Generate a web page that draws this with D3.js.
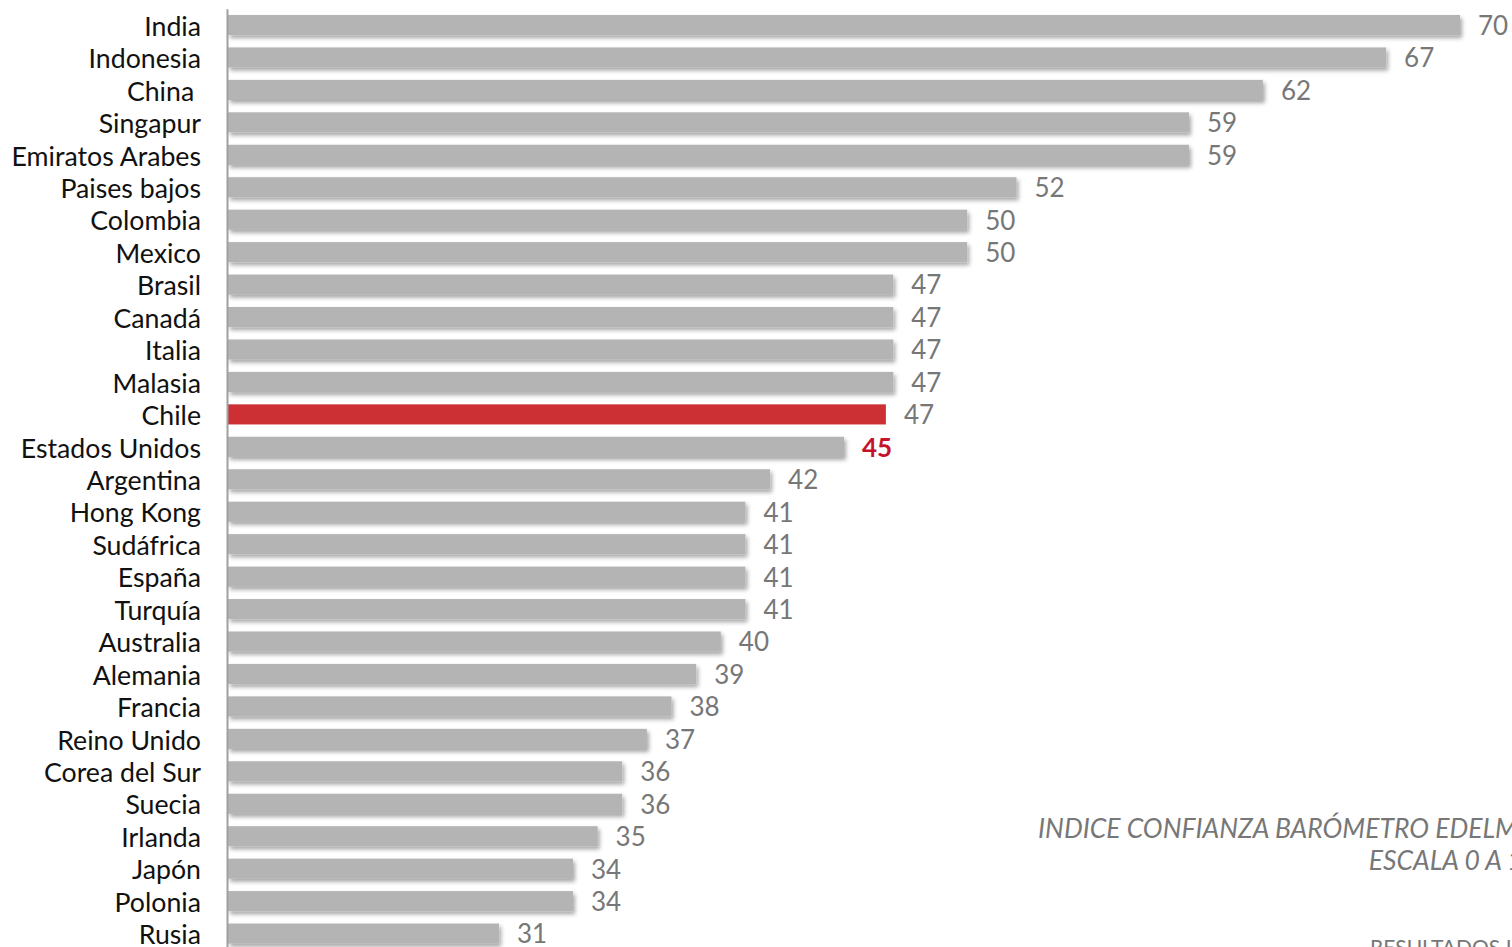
<!DOCTYPE html>
<html>
<head>
<meta charset="utf-8">
<script src="https://cdn.jsdelivr.net/npm/d3@7"></script>
<style>
  body { margin: 0; background: #fff; overflow: hidden; }
  svg { display: block; font-family: Lato, "Open Sans", sans-serif; }
  text { white-space: pre; }
</style>
</head>
<body>
<script>
// datos
var countries = ["India", "Indonesia", "China ", "Singapur", "Emiratos Arabes", "Paises bajos",
  "Colombia", "Mexico", "Brasil", "Canadá", "Italia", "Malasia", "Chile", "Estados Unidos",
  "Argentina", "Hong Kong", "Sudáfrica", "España", "Turquía", "Australia", "Alemania",
  "Francia", "Reino Unido", "Corea del Sur", "Suecia", "Irlanda", "Japón", "Polonia", "Rusia"];
var barValues = [70, 67, 62, 59, 59, 52, 50, 50, 47, 47, 47, 47, 46.7, 45, 42, 41, 41, 41, 41,
  40, 39, 38, 37, 36, 36, 35, 34, 34, 31];
var valueLabels = ["70", "67", "62", "59", "59", "52", "50", "50", "47", "47", "47", "47", "47", "45",
  "42", "41", "41", "41", "41", "40", "39", "38", "37", "36", "36", "35", "34", "34", "31"];
var highlightBar = "Chile";
var highlightLabel = "Estados Unidos";
var xDomain = [20, 70];

var W = 1512, H = 947;
var svg = d3.select("body").append("svg").attr("width", W).attr("height", H);

var defs = svg.append("defs");
var f = defs.append("filter").attr("id", "shadow")
  .attr("x", "-5%").attr("y", "-50%").attr("width", "110%").attr("height", "220%");
f.append("feDropShadow").attr("dx", 2).attr("dy", 3).attr("stdDeviation", 2)
  .attr("flood-color", "#000").attr("flood-opacity", 0.35);

var x = d3.scaleLinear().domain(xDomain).range([228, 1460]);
var y = d3.scaleBand().domain(countries).range([8.8, 949.8]).paddingInner(0.38).paddingOuter(0.19);

var data = countries.map(function(c, i) { return { name: c, v: barValues[i], label: valueLabels[i] }; });

svg.append("g").selectAll("rect")
  .data(data)
  .enter().append("rect")
    .attr("x", x(xDomain[0]))
    .attr("y", d => y(d.name))
    .attr("width", d => x(d.v) - x(xDomain[0]))
    .attr("height", y.bandwidth())
    .attr("fill", d => d.name === highlightBar ? "#cc3035" : "#b4b4b4")
    .attr("filter", d => d.name === highlightBar ? null : "url(#shadow)");

svg.append("g").selectAll("text")
  .data(data)
  .enter().append("text")
    .attr("x", d => x(d.v) + 18)
    .attr("y", d => y(d.name) + y.bandwidth() / 2)
    .attr("dy", "0.38em")
    .attr("font-size", 26)
    .attr("font-weight", d => d.name === highlightLabel ? 700 : 400)
    .attr("fill", d => d.name === highlightLabel ? "#c4132a" : "#777")
    .text(d => d.label);

var yAxis = svg.append("g")
  .attr("transform", "translate(227,0)")
  .call(d3.axisLeft(y).tickSize(0).tickPadding(26));
yAxis.select(".domain").attr("stroke", "#a0a0a0").attr("stroke-width", 2);
yAxis.selectAll("text").attr("font-size", 26.7).attr("fill", "#111")
  .attr("dy", "0.4em")
  .attr("font-family", "Lato, sans-serif");

// titulo
var t1 = svg.append("text")
  .attr("x", 1038).attr("y", 838)
  .attr("font-size", 26.5).attr("font-style", "italic").attr("fill", "#777")
  .text("INDICE CONFIANZA BARÓMETRO EDELMAN");
var endX = 1038 + t1.node().getComputedTextLength();
svg.append("text")
  .attr("x", endX).attr("y", 870).attr("text-anchor", "end")
  .attr("font-size", 26.5).attr("font-style", "italic").attr("fill", "#777")
  .text("ESCALA 0 A 100");
svg.append("text")
  .attr("x", 1370).attr("y", 955)
  .attr("font-size", 21).attr("fill", "#777")
  .text("RESULTADOS I");
</script>
</body>
</html>
